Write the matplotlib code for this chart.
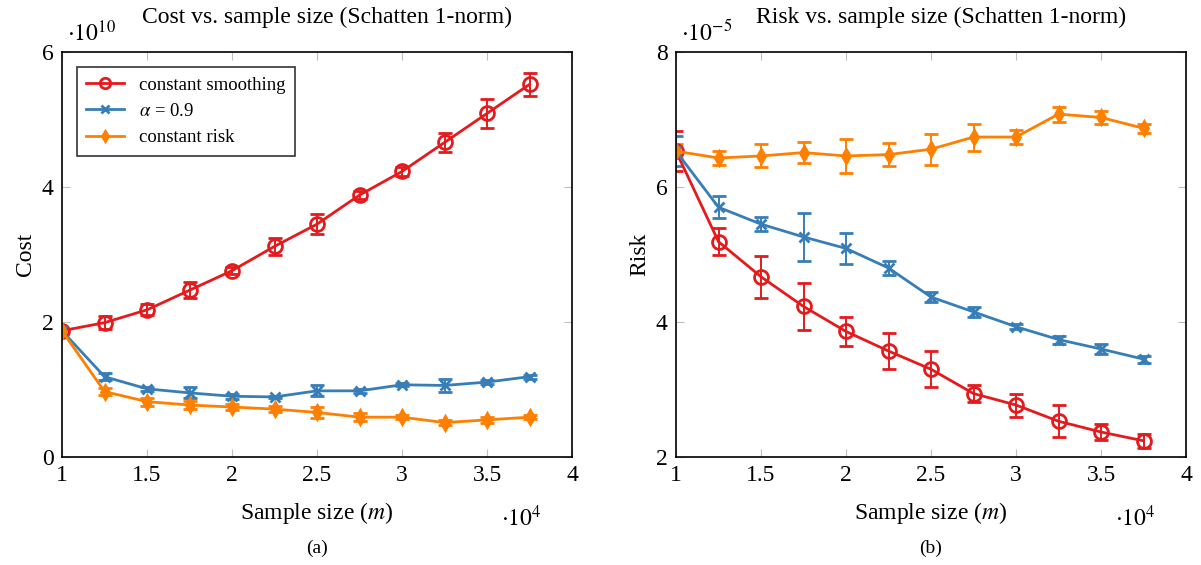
import numpy as np
import matplotlib.pyplot as plt
from matplotlib.lines import Line2D

plt.rcParams['font.family'] = ['Liberation Serif', 'DejaVu Serif']
plt.rcParams['mathtext.fontset'] = 'stix'

# === Data ===
sample_size = np.array([10000, 12500, 15000, 17500, 20000, 22500, 25000,
                        27500, 30000, 32500, 35000, 37500])

# cost, in units of 1e10
cost_smooth = [1.87, 1.99, 2.18, 2.47, 2.76, 3.12, 3.45, 3.88, 4.23, 4.66, 5.09, 5.52]
cost_smooth_err = [0.03, 0.10, 0.08, 0.12, 0.05, 0.12, 0.15, 0.06, 0.06, 0.14, 0.22, 0.17]
cost_alpha = [1.87, 1.19, 1.01, 0.95, 0.90, 0.89, 0.98, 0.98, 1.07, 1.06, 1.11, 1.19]
cost_alpha_err = [0.02, 0.05, 0.03, 0.08, 0.04, 0.02, 0.08, 0.03, 0.02, 0.10, 0.03, 0.03]
cost_risk = [1.87, 0.97, 0.82, 0.77, 0.74, 0.71, 0.66, 0.59, 0.59, 0.51, 0.55, 0.59]
cost_risk_err = [0.02, 0.05, 0.06, 0.06, 0.05, 0.04, 0.08, 0.06, 0.03, 0.04, 0.04, 0.03]

# risk, in units of 1e-5
risk_smooth = [6.53, 5.19, 4.67, 4.23, 3.86, 3.57, 3.30, 2.94, 2.77, 2.53, 2.37, 2.24]
risk_smooth_err = [0.30, 0.20, 0.31, 0.35, 0.21, 0.26, 0.27, 0.13, 0.17, 0.24, 0.12, 0.10]
risk_alpha = [6.53, 5.70, 5.45, 5.26, 5.09, 4.80, 4.37, 4.15, 3.93, 3.74, 3.60, 3.45]
risk_alpha_err = [0.22, 0.16, 0.10, 0.36, 0.23, 0.10, 0.08, 0.07, 0.04, 0.06, 0.07, 0.05]
risk_risk = [6.53, 6.43, 6.46, 6.51, 6.46, 6.48, 6.56, 6.74, 6.74, 7.08, 7.03, 6.87]
risk_risk_err = [0.10, 0.10, 0.17, 0.15, 0.25, 0.17, 0.23, 0.20, 0.10, 0.11, 0.10, 0.07]

labels = ["constant smoothing", r"$\alpha$ = 0.9", "constant risk"]
colors = ["#e41a1c", "#377eb8", "#ff7f00"]
markers = ["o", "x", "d"]

FS = 17


def marker_style(m, c):
    if m == "o":
        return dict(marker=m, markersize=10, mfc="none", mec=c, mew=2)
    return dict(marker=m, markersize=7, mfc=c, mec=c, mew=2)


def draw_panel(ax, series, errs, ylim, yticks, ylabel, title, yexp, legend):
    x = sample_size / 1e4
    for y, e, lab, c, m in zip(series, errs, labels, colors, markers):
        ax.errorbar(x, y, yerr=e, color=c, lw=2, capsize=5, elinewidth=1.4,
                    capthick=1.4, **marker_style(m, c))
    ax.set_xlim(1, 4)
    ax.set_ylim(*ylim)
    ax.set_xticks([1, 1.5, 2, 2.5, 3, 3.5, 4])
    ax.set_xticklabels(["1", "1.5", "2", "2.5", "3", "3.5", "4"])
    ax.set_yticks(yticks)
    ax.set_yticklabels([str(t) for t in yticks])
    ax.tick_params(direction="in", top=True, right=True, length=6,
                   color="0.75", labelsize=FS, pad=6)
    for sp in ax.spines.values():
        sp.set_linewidth(1.2)
    ax.set_xlabel(r"Sample size ($m$)", fontsize=FS, labelpad=10)
    ax.set_ylabel(ylabel, fontsize=FS)
    ax.set_title(title, fontsize=FS, pad=21, x=0.52)
    ax.text(0.01, 1.015, r"$\cdot10^{%s}$" % yexp, transform=ax.transAxes,
            fontsize=FS, ha="left", va="bottom")
    ax.text(0.86, -0.12, r"$\cdot10^{4}$", transform=ax.transAxes,
            fontsize=FS, ha="left", va="top")
    if legend:
        handles = [Line2D([], [], color=c, lw=2, **marker_style(m, c))
                   for c, m in zip(colors, markers)]
        for h in handles:
            h.set_markersize(h.get_markersize() * 0.75)
        leg = ax.legend(handles, labels, loc="upper left", fontsize=13.5,
                        frameon=True, fancybox=False, edgecolor="black",
                        handlelength=2.0, borderaxespad=0.8, labelspacing=0.5,
                        borderpad=0.5)
        leg.get_frame().set_linewidth(1.2)


fig = plt.figure(figsize=(12.01, 5.65), dpi=100)
ax1 = fig.add_axes([62 / 1201, 108 / 565, 510 / 1201, 405 / 565])
ax2 = fig.add_axes([676 / 1201, 108 / 565, 510 / 1201, 405 / 565])

draw_panel(ax1, [cost_smooth, cost_alpha, cost_risk],
           [cost_smooth_err, cost_alpha_err, cost_risk_err],
           (0, 6), [0, 2, 4, 6], "Cost",
           "Cost vs. sample size (Schatten 1-norm)", "10", True)
draw_panel(ax2, [risk_smooth, risk_alpha, risk_risk],
           [risk_smooth_err, risk_alpha_err, risk_risk_err],
           (2, 8), [2, 4, 6, 8], "Risk",
           "Risk vs. sample size (Schatten 1-norm)", "-5", False)

fig.text(317 / 1201, 1 - 548 / 565, "(a)", fontsize=14, ha="center", va="center")
fig.text(931 / 1201, 1 - 548 / 565, "(b)", fontsize=14, ha="center", va="center")

fig.savefig("out.png", dpi=100)
